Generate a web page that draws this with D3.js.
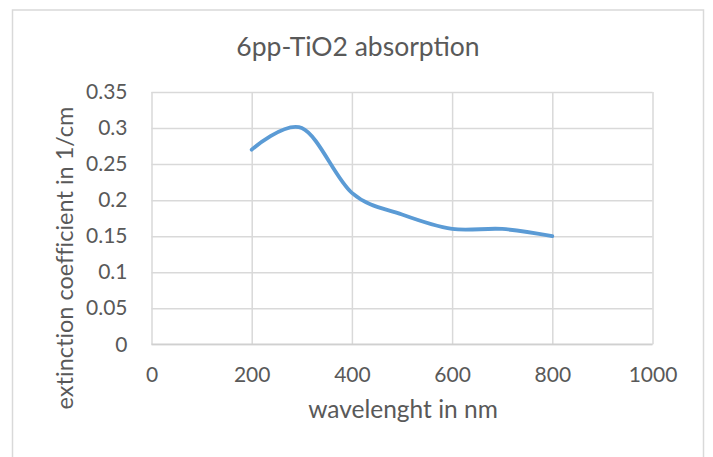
<!DOCTYPE html>
<html>
<head>
<meta charset="utf-8">
<script src="https://cdn.jsdelivr.net/npm/d3@7"></script>
<style>
  html, body { margin: 0; padding: 0; background: #fff; }
  svg { display: block; }
  text { font-family: Lato, "Open Sans", sans-serif; fill: #595959; }
</style>
</head>
<body>
<svg id="chart" width="713" height="457"></svg>
<script>
// ---- data ----
const wavelengths = [200, 300, 400, 500, 600, 700, 800];
const extinction = [0.27, 0.30, 0.21, 0.18, 0.16, 0.16, 0.15];
const xTicks = [0, 200, 400, 600, 800, 1000];
const xTickLabels = ["0", "200", "400", "600", "800", "1000"];
const yTicks = [0, 0.05, 0.1, 0.15, 0.2, 0.25, 0.3, 0.35];
const yTickLabels = ["0", "0.05", "0.1", "0.15", "0.2", "0.25", "0.3", "0.35"];
const chartTitle = "6pp-TiO2 absorption";
const xTitle = "wavelenght in nm";
const yTitle = "extinction coefficient in 1/cm";

// ---- layout ----
const svg = d3.select("#chart");
const plot = { left: 151.5, right: 652.5, top: 92, bottom: 344.3 };
const gridColor = "#d9d9d9";

svg.append("rect")
  .attr("x", 12.5).attr("y", 10)
  .attr("width", 691).attr("height", 470)
  .attr("fill", "#fff")
  .attr("stroke", gridColor).attr("stroke-width", 1.5);

const x = d3.scaleLinear().domain([0, 1000]).range([plot.left, plot.right]);
const y = d3.scaleLinear().domain([0, 0.35]).range([plot.bottom, plot.top]);

// y axis with horizontal gridlines
const yAxis = d3.axisLeft(y)
  .tickValues(yTicks)
  .tickFormat((d, i) => yTickLabels[i])
  .tickSizeInner(-(plot.right - plot.left))
  .tickSizeOuter(0)
  .tickPadding(24);
const gy = svg.append("g").attr("transform", `translate(${plot.left},0)`).call(yAxis);
gy.select(".domain").remove();
gy.selectAll(".tick line").attr("stroke", gridColor).attr("stroke-width", 1.5);
gy.selectAll(".tick text")
  .style("font-family", "Lato, 'Open Sans', sans-serif")
  .style("font-size", "21px").attr("fill", "#595959");

// x axis with vertical gridlines
const xAxis = d3.axisBottom(x)
  .tickValues(xTicks)
  .tickFormat((d, i) => xTickLabels[i])
  .tickSizeInner(-(plot.bottom - plot.top))
  .tickSizeOuter(0)
  .tickPadding(23);
const gx = svg.append("g").attr("transform", `translate(0,${plot.bottom})`).call(xAxis);
gx.select(".domain").remove();
gx.selectAll(".tick line").attr("stroke", gridColor).attr("stroke-width", 1.5);
gx.selectAll(".tick text")
  .style("font-family", "Lato, 'Open Sans', sans-serif")
  .style("font-size", "21px").attr("fill", "#595959");

// baseline axis line
svg.append("line")
  .attr("x1", plot.left).attr("x2", plot.right)
  .attr("y1", y(0)).attr("y2", y(0))
  .attr("stroke", "#d0d0d0").attr("stroke-width", 1.5);

// series line
const line = d3.line()
  .x((d, i) => x(wavelengths[i]))
  .y(d => y(d))
  .curve(d3.curveCardinal.tension(0));
svg.append("path")
  .datum(extinction)
  .attr("d", line)
  .attr("fill", "none")
  .attr("stroke", "#5b9bd5")
  .attr("stroke-width", 3.8)
  .attr("stroke-linecap", "round")
  .attr("stroke-linejoin", "round");

// titles
svg.append("text")
  .attr("x", 358).attr("y", 56)
  .attr("text-anchor", "middle")
  .style("font-size", "26.5px")
  .text(chartTitle);

svg.append("text")
  .attr("x", 403).attr("y", 418)
  .attr("text-anchor", "middle")
  .style("font-size", "24.5px")
  .text(xTitle);

svg.append("text")
  .attr("transform", "translate(73,258) rotate(-90)")
  .attr("text-anchor", "middle")
  .style("font-size", "23.5px")
  .style("font-variant-ligatures", "none")
  .text(yTitle);
</script>
</body>
</html>
